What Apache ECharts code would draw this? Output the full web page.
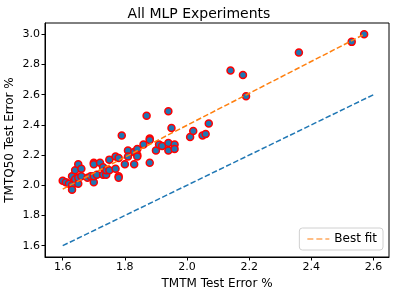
<!DOCTYPE html>
<html><head><meta charset="utf-8">
<script src="https://cdn.jsdelivr.net/npm/echarts@6/dist/echarts.min.js"></script>
<style>html,body{margin:0;padding:0;background:#fff}#c{width:398px;height:295px}</style>
</head><body><div id="c"></div>
<script>
const tmtm = [1.60,1.61,1.62,1.63,1.63,1.63,1.64,1.64,1.65,1.65,1.65,1.66,1.66,1.68,1.69,1.70,1.70,1.70,1.70,1.71,1.72,1.73,1.73,1.74,1.74,1.75,1.75,1.77,1.77,1.78,1.78,1.78,1.79,1.80,1.81,1.81,1.83,1.83,1.84,1.84,1.84,1.86,1.87,1.88,1.88,1.88,1.90,1.91,1.92,1.94,1.94,1.94,1.95,1.96,1.96,2.01,2.02,2.05,2.06,2.07,2.14,2.18,2.19,2.36,2.53,2.57];
const tmtq50 = [2.03,2.02,2.01,2.00,1.97,2.06,2.10,2.04,2.14,2.01,2.05,2.11,2.06,2.05,2.06,2.15,2.14,2.02,2.06,2.07,2.15,2.12,2.07,2.07,2.10,2.17,2.10,2.19,2.11,2.18,2.06,2.05,2.33,2.14,2.23,2.19,2.22,2.14,2.24,2.20,2.19,2.27,2.46,2.31,2.30,2.15,2.23,2.27,2.26,2.49,2.28,2.23,2.38,2.27,2.24,2.32,2.36,2.33,2.34,2.41,2.76,2.73,2.59,2.88,2.95,3.00];
const identityX = [1.6, 2.6];
const identityY = [1.6, 2.6];
const fitX = [1.6, 2.57];
const fitY = [1.975, 3.0];
const xTicks = [1.6, 1.8, 2.0, 2.2, 2.4, 2.6];
const yTicks = [1.6, 1.8, 2.0, 2.2, 2.4, 2.6, 2.8, 3.0];

const font = 'DejaVu Sans';
const chart = echarts.init(document.getElementById('c'));
const zip = (a, b) => a.map((v, i) => [v, b[i]]);
const axisCommon = {
  axisLine: {show: true, onZero: false, lineStyle: {color: '#000', width: 1}},
  axisTick: {show: true, length: 3.5, lineStyle: {color: '#000'}},
  splitLine: {show: false},
  nameLocation: 'middle',
  nameMoveOverlap: false,
  nameTextStyle: {fontFamily: font, fontSize: 12, color: '#000'}
};
chart.setOption({
  animation: false,
  title: {text: 'All MLP Experiments', left: 'center', top: 2,
    textStyle: {fontFamily: font, fontSize: 14, fontWeight: 'normal', color: '#000'}},
  grid: {left: 45, right: 9, top: 23, bottom: 38, show: true, borderColor: '#000', borderWidth: 1,
    outerBoundsMode: 'none', containLabel: false},
  xAxis: Object.assign({}, axisCommon, {
    type: 'value', min: 1.543, max: 2.65, name: 'TMTM Test Error %', nameGap: 21,
    axisTick: Object.assign({}, axisCommon.axisTick, {customValues: xTicks}),
    axisLabel: {customValues: xTicks, fontFamily: font, fontSize: 11, color: '#000', margin: 5,
      formatter: v => v.toFixed(1)}
  }),
  yAxis: Object.assign({}, axisCommon, {
    type: 'value', min: 1.525, max: 3.075, name: 'TMTQ50 Test Error %', nameGap: 29,
    axisTick: Object.assign({}, axisCommon.axisTick, {customValues: yTicks}),
    axisLabel: {customValues: yTicks, fontFamily: font, fontSize: 11, color: '#000', margin: 5,
      formatter: v => v.toFixed(1)}
  }),
  legend: {
    data: [{name: 'Best fit', icon: 'path://M0,0h6v1h-6z M9,0h6v1h-6z M18,0h4v1h-4z'}],
    right: 15, bottom: 45, orient: 'vertical',
    backgroundColor: '#fff', borderColor: '#d0d0d0', borderWidth: 1, borderRadius: 3,
    padding: [5, 6, 5, 8], itemWidth: 22, itemHeight: 1.5, itemGap: 5,
    itemStyle: {color: '#ff7f0e'},
    textStyle: {fontFamily: font, fontSize: 12, color: '#000'}
  },
  series: [
    {type: 'scatter', data: zip(tmtm, tmtq50), symbolSize: 7, z: 2,
      itemStyle: {color: '#1f77b4', borderColor: '#ff0000', borderWidth: 1.5, opacity: 1}},
    {type: 'line', name: 'identity', data: zip(identityX, identityY), symbol: 'none', z: 3,
      lineStyle: {color: '#1f77b4', width: 1.5, type: [5.5, 2.4]}},
    {type: 'line', name: 'Best fit', data: zip(fitX, fitY), symbol: 'none', z: 3,
      color: '#ff7f0e',
      lineStyle: {color: '#ff7f0e', width: 1.5, type: [5.5, 2.4]}}
  ]
});
</script></body></html>
